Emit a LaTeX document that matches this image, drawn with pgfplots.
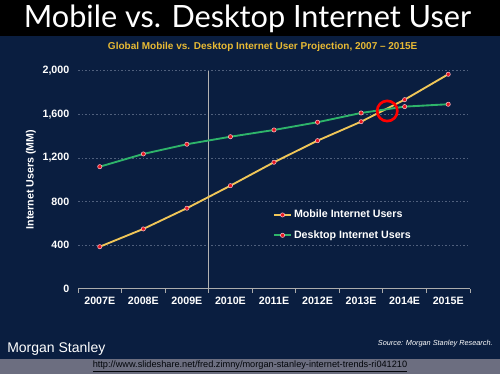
\documentclass[border=0pt]{standalone}
\usepackage{fontspec}
\setmainfont{Liberation Sans}
\newfontfamily\titlefont{Lato}
\usepackage{pgfplots}
\pgfplotsset{compat=1.18}
\definecolor{navy}{RGB}{10,30,64}
\definecolor{stripgrey}{RGB}{108,110,128}
\definecolor{goldtitle}{RGB}{232,186,52}
\definecolor{mobileline}{RGB}{240,198,88}
\definecolor{desktopline}{RGB}{46,180,106}
\definecolor{markred}{RGB}{230,20,30}
\definecolor{markrim}{RGB}{250,190,200}
\definecolor{gridc}{RGB}{80,96,125}
\begin{document}
\begin{tikzpicture}
\useasboundingbox (0,0) rectangle (375pt,280.5pt);
\fill[navy] (0,0) rectangle (375pt,280.5pt);
\fill[black] (0,253.5pt) rectangle (375pt,280.5pt);
\fill[stripgrey] (0,0) rectangle (375pt,11.25pt);
\node[anchor=base, white, inner sep=0pt, font=\titlefont\fontsize{23}{23}\selectfont] at (185.6pt,259.5pt) {Mobile vs. Desktop Internet User};
\node[anchor=center, goldtitle, inner sep=0pt, font=\bfseries\fontsize{7.5}{7.5}\selectfont] at (197pt,245.5pt) {Global Mobile vs. Desktop Internet User Projection, 2007 -- 2015E};
\node[anchor=base west, white, inner sep=0pt, font=\fontsize{10.5}{10.5}\selectfont] at (5.25pt,16pt) {Morgan Stanley};
\node[anchor=east, white, inner sep=0pt, font=\itshape\fontsize{5.5}{5.5}\selectfont] at (369.75pt,22.5pt) {Source: Morgan Stanley Research.};
\node[anchor=center, text=black!85!navy, inner sep=0pt, font=\fontsize{6.9}{6.9}\selectfont] at (187.5pt,6pt) {\underline{http://www.slideshare.net/fred.zimny/morgan-stanley-internet-trends-ri041210}};
\begin{axis}[
  at={(58.5pt,64pt)}, anchor=south west,
  scale only axis, width=294pt, height=163.5pt,
  xmin=-0.5, xmax=8.5, ymin=0, ymax=2000,
  clip=false,
  axis x line=bottom, axis y line=left,
  x axis line style={-, draw=gray!65, line width=0.7pt},
  y axis line style={draw=none},
  xtick={-0.5,0.5,1.5,2.5,3.5,4.5,5.5,6.5,7.5,8.5},
  x tick label as interval,
  xticklabels={2007E,2008E,2009E,2010E,2011E,2012E,2013E,2014E,2015E},
  ytick={0,400,800,1200,1600,2000},
  tick align=outside, major tick length=3pt,
  xtick style={draw=gray!65, line width=0.6pt},
  ytick style={draw=none},
  ymajorgrids,
  major grid style={draw=gridc, line width=0.5pt, dash pattern=on 1.2pt off 1.5pt},
  /pgf/number format/assume math mode=true,
  /pgf/number format/1000 sep={,},
  tick label style={text=white, font=\bfseries\fontsize{8}{8}\selectfont},
  ylabel={Internet Users (MM)},
  ylabel style={at={(axis description cs:-0.12,0.5)}, anchor=center, text=white, font=\bfseries\fontsize{8}{8}\selectfont},
  legend style={at={(axis description cs:0.497,0.374)}, anchor=north west, draw=none, fill=none, text=white, font=\bfseries\fontsize{8}{8}\selectfont, row sep=4pt, inner sep=0pt, nodes={inner xsep=1.5pt}},
  legend cell align=left,
  legend image code/.code={\draw[mark repeat=2,mark phase=2,#1] plot coordinates {(0pt,0pt) (6.4pt,0pt) (12.8pt,0pt)};},
]
\addplot[forget plot, draw=gray!60, line width=0.6pt] coordinates {(2.5,0) (2.5,2000)};
\addplot[mobileline, line width=1.4pt, mark=*, mark size=1.6pt, mark options={fill=markred, draw=markrim, line width=0.4pt}] coordinates {
(0,385) (1,548) (2,738) (3,945) (4,1160) (5,1358) (6,1532) (7,1734) (8,1967)};
\addlegendentry{Mobile Internet Users}
\addplot[desktopline, line width=1.4pt, mark=*, mark size=1.6pt, mark options={fill=markred, draw=markrim, line width=0.4pt}] coordinates {
(0,1119) (1,1236) (2,1325) (3,1394) (4,1456) (5,1527) (6,1612) (7,1670) (8,1692)};
\addlegendentry{Desktop Internet Users}
\draw[red, line width=2pt] (axis cs:6.6,1630) circle[radius=7.6pt];
\end{axis}
\end{tikzpicture}
\end{document}
